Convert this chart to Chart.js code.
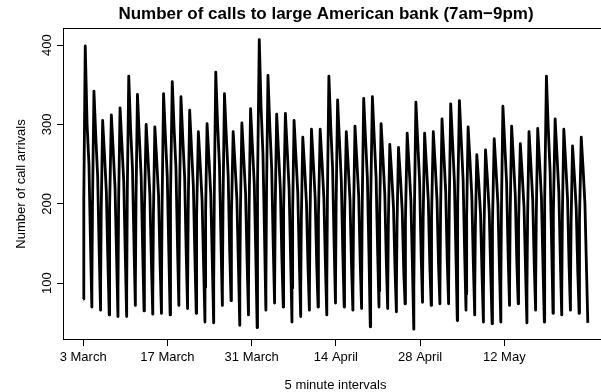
<!DOCTYPE html>
<html>
<head>
<meta charset="utf-8">
<script src="https://cdn.jsdelivr.net/npm/chart.js@4.4.0/dist/chart.umd.min.js"></script>
<style>
  html, body { margin: 0; padding: 0; background: #fff; overflow: hidden; }
  canvas { display: block; }
</style>
</head>
<body>
<canvas id="calls" width="612" height="392"></canvas>
<script>
// 5-minute intervals per working day (7:00am - 9:05pm)
const perDay = 169;

// interval within the day at which each of the daily readings below is taken
// 7:00, 8:00, 10:20, 13:20, 16:20, 18:50, 21:00
const slotOffsets = [0, 12, 40, 76, 112, 142, 168];

// readings per weekday, 3 March onwards (58 days)
const openCalls = [
  80, 95, 90, 100, 92, 88, 96, 90, 85, 94,
  98, 92, 88, 90, 95, 100, 92, 88, 94, 90,
  102, 96, 92, 88, 94, 90, 86, 92, 98, 94,
  90, 88, 96, 92, 90, 86, 94, 88, 92, 96,
  90, 88, 94, 92, 86, 90, 88, 92, 96, 90,
  88, 92, 94, 98, 90, 88, 92, 90
];
const morningCalls = [
  205, 200, 190, 195, 200, 215, 205, 190, 185, 200,
  210, 205, 195, 185, 190, 215, 200, 185, 190, 195,
  225, 215, 195, 195, 190, 180, 185, 185, 210, 200,
  180, 185, 200, 200, 185, 175, 175, 180, 195, 180,
  185, 190, 195, 200, 185, 170, 170, 175, 195, 185,
  175, 180, 185, 205, 190, 185, 175, 180
];
const peakCalls = [
  399, 342, 305, 312, 321, 361, 338, 300, 297, 339,
  354, 335, 318, 291, 301, 366, 339, 291, 302, 320,
  407, 362, 313, 314, 305, 284, 294, 294, 361, 331,
  291, 298, 333, 335, 301, 275, 271, 289, 328, 289,
  291, 307, 326, 330, 297, 262, 268, 282, 323, 298,
  276, 291, 295, 361, 307, 294, 273, 284
];
const middayCalls = [
  300, 285, 262, 268, 275, 295, 285, 258, 255, 285,
  295, 282, 270, 250, 258, 300, 285, 250, 258, 272,
  320, 298, 265, 268, 260, 245, 252, 252, 298, 280,
  250, 255, 282, 283, 258, 238, 235, 248, 278, 248,
  250, 262, 278, 280, 255, 228, 232, 243, 275, 255,
  238, 250, 253, 295, 262, 252, 236, 245
];
const afternoonCalls = [
  250, 235, 215, 220, 228, 245, 235, 212, 210, 235,
  245, 233, 222, 205, 212, 248, 236, 206, 213, 225,
  262, 245, 218, 220, 214, 200, 207, 207, 245, 230,
  205, 210, 232, 233, 212, 195, 192, 204, 228, 204,
  205, 215, 228, 230, 210, 188, 190, 200, 226, 210,
  196, 205, 208, 240, 215, 207, 194, 200
];
const eveningCalls = [
  150, 140, 128, 132, 135, 148, 140, 126, 124, 140,
  146, 138, 132, 122, 126, 150, 140, 122, 126, 134,
  160, 148, 130, 131, 128, 120, 123, 123, 148, 137,
  122, 125, 138, 139, 126, 116, 114, 121, 136, 121,
  122, 128, 135, 137, 124, 110, 112, 118, 134, 125,
  116, 122, 123, 148, 128, 123, 115, 119
];
const closeCalls = [
  70, 66, 60, 58, 58, 72, 65, 61, 62, 60,
  72, 68, 62, 51, 50, 72, 78, 47, 60, 44,
  66, 75, 70, 51, 58, 66, 70, 60, 75, 70,
  66, 68, 45, 70, 68, 64, 74, 42, 76, 72,
  74, 74, 53, 66, 60, 51, 49, 51, 72, 74,
  50, 66, 51, 62, 60, 66, 62, 50
];

// axis ticks (x in 5-minute interval units)
const tickPositions = [1, 1637, 3273, 4909, 6545, 8181];
const tickLabels = ['3 March', '17 March', '31 March', '14 April', '28 April', '12 May'];
const yTicks = [100, 200, 300, 400];

const FONT = '"Liberation Sans", Arial, Helvetica, sans-serif';

function buildSeries() {
    const rows = [openCalls, morningCalls, peakCalls, middayCalls, afternoonCalls, eveningCalls, closeCalls];
    const pts = [];
    for (let d = 0; d < peakCalls.length; d++) {
        slotOffsets.forEach((k, i) => {
            pts.push({ x: d * perDay + k + 1, y: rows[i][d] });
        });
    }
    return pts;
}

// R-style frame: box, rotated y labels, titles
const rFrame = {
    id: 'rFrame',
    afterDraw(chart) {
        const { ctx, chartArea: a, scales } = chart;
        ctx.save();
        ctx.strokeStyle = '#000';
        ctx.lineWidth = 1;
        ctx.strokeRect(a.left + 0.5, a.top + 0.5, a.right - a.left - 1, a.bottom - a.top - 1);

        ctx.fillStyle = '#000';
        ctx.textAlign = 'center';
        ctx.textBaseline = 'alphabetic';

        // y tick labels, parallel to the axis
        ctx.font = '13px ' + FONT;
        yTicks.forEach(v => {
            const py = scales.y.getPixelForValue(v);
            ctx.save();
            ctx.translate(51, py);
            ctx.rotate(-Math.PI / 2);
            ctx.fillText(String(v), 0, 0);
            ctx.restore();
        });

        // y axis title
        ctx.save();
        ctx.translate(25, (a.top + a.bottom) / 2);
        ctx.rotate(-Math.PI / 2);
        ctx.fillText('Number of call arrivals', 0, 0);
        ctx.restore();

        // x axis title
        const cx = (a.left + a.right) / 2;
        ctx.fillText('5 minute intervals', cx, 389);

        // main title
        ctx.font = 'bold 17px ' + FONT;
        ctx.fillText('Number of calls to large American bank (7am\u22129pm)', cx - 9.5, 19);
        ctx.restore();
    }
};

new Chart(document.getElementById('calls'), {
    type: 'line',
    data: {
        datasets: [{
            data: buildSeries(),
            borderColor: '#000',
            borderWidth: 2.8,
            borderJoinStyle: 'round',
            pointRadius: 0,
            tension: 0,
            fill: false
        }]
    },
    options: {
        responsive: false,
        animation: false,
        events: [],
        layout: { padding: { top: 28, right: 4, left: 0, bottom: 0 } },
        plugins: {
            legend: { display: false },
            tooltip: { enabled: false },
            title: { display: false }
        },
        scales: {
            x: {
                type: 'linear',
                min: -391,
                max: 10194,
                afterBuildTicks: s => { s.ticks = tickPositions.map(v => ({ value: v })); },
                afterFit: s => { s.height = 52; },
                grid: { display: true, drawOnChartArea: false, drawTicks: true, tickLength: 6, color: '#000', lineWidth: 1 },
                border: { display: false },
                ticks: {
                    color: '#000',
                    font: { family: FONT, size: 13 },
                    padding: 4,
                    maxRotation: 0,
                    autoSkip: false,
                    callback: (v, i) => tickLabels[i]
                }
            },
            y: {
                type: 'linear',
                min: 28.4,
                max: 421.6,
                afterBuildTicks: s => { s.ticks = yTicks.map(v => ({ value: v })); },
                afterFit: s => { s.width = 63; },
                grid: { display: true, drawOnChartArea: false, drawTicks: true, tickLength: 6, color: '#000', lineWidth: 1 },
                border: { display: false },
                ticks: { display: false }
            }
        }
    },
    plugins: [rFrame]
});
</script>
</body>
</html>
